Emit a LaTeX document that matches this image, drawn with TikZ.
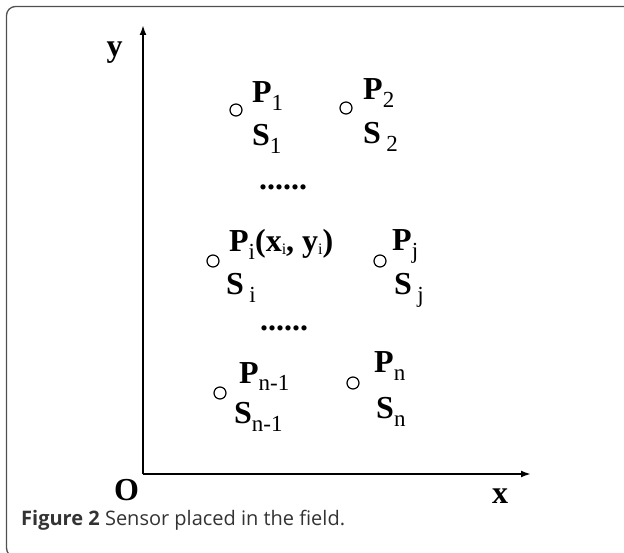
\documentclass[tikz,border=0pt]{standalone}
\usepackage{fontspec}
\setmainfont{Liberation Serif}
\newfontfamily\capfont{Open Sans}
\usepackage{tikz}
\usetikzlibrary{arrows.meta,positioning,calc}

\definecolor{framegray}{HTML}{505050}
\definecolor{captext}{HTML}{333333}

%% lowered subscripts, drawn thinner than the bold letter they hang off
\newcommand{\lowsub}[1]{\raisebox{-8pt}{\fontsize{23}{24}\mdseries\selectfont #1}}
\newcommand{\tinysub}[1]{\raisebox{-3pt}{\fontsize{16}{17}\mdseries\selectfont #1}}

\begin{document}
\begin{tikzpicture}[x=1pt, y=-1pt,
    font=\fontsize{32}{34}\bfseries\selectfont,
    sensor/.style={circle, draw, line width=1.2pt, minimum size=12pt, inner sep=0pt},
    lab/.style={anchor=base west, inner sep=0pt},
    axlab/.style={inner sep=0pt},
    axis/.style={line width=2pt, -{Latex[length=10pt, width=7pt]}}]

    %% Geometry: one unit is one pixel of the 624 x 553 figure, y running DOWN.
    \useasboundingbox (0,0) rectangle (624,553);

    %% ---- journal frame: open to the right and below ----
    \draw[framegray, line width=1.3pt, rounded corners=9pt]
      (640,6.5) -- (6.5,6.5) -- (6.5,557) -- (640,557);

    %% ---- axes ----
    \coordinate (orig) at (143,474);
    \coordinate (xend) at (531,474);
    \coordinate (yend) at (143,25);
    \draw[axis] (orig) -- (xend);
    \draw[axis] (orig) -- (yend);
    \node[axlab] (ylab) at (114.5,53) {y};
    \node[axlab] (olab) at (126.5,490) {O};
    \node[axlab] (xlab) at (500,496) {x};

    %% ---- sensors: circle, position label above, sensor label below ----
    \node[sensor] (s1) at (236,110) {};
    \node[lab] (p1) at ([shift={(16,-7)}]s1.center) {P\lowsub{1}};
    \node[lab] (l1) at ([shift={(16,36)}]s1.center) {S\lowsub{1}};

    \node[sensor] (s2) at (346,108) {};
    \node[lab] (p2) at ([shift={(17,-8)}]s2.center) {P\lowsub{2}};
    \node[lab] (l2) at ([shift={(17,36)}]s2.center) {S\,\lowsub{2}};

    \node[lab] (dots1) at (259,190) {......};

    \node[sensor] (si) at (213,261) {};
    \node[lab] (pi) at ([shift={(16,-9)}]si.center)
      {P\lowsub{i}(x\tinysub{i}, y\tinysub{i})};
    \node[lab] (li) at ([shift={(13,34)}]si.center) {S\,\lowsub{i}};

    \node[sensor] (sj) at (380,261) {};
    \node[lab] (pj) at ([shift={(12,-10)}]sj.center) {P\lowsub{j}};
    \node[lab] (lj) at ([shift={(14,34)}]sj.center) {S\,\lowsub{j}};

    \node[lab] (dots2) at (260,331) {......};

    \node[sensor] (sn1) at (220,393) {};
    \node[lab] (pn1) at ([shift={(19,-10)}]sn1.center) {P\lowsub{n-1}};
    \node[lab] (ln1) at ([shift={(14,30)}]sn1.center) {S\lowsub{n-1}};

    \node[sensor] (sn) at (353,383) {};
    \node[lab] (pn) at ([shift={(21,-10)}]sn.center) {P\lowsub{n}};
    \node[lab] (ln) at ([shift={(23,35)}]sn.center) {S\lowsub{n}};

    %% ---- caption ----
    \node[anchor=base west, inner sep=0pt, text=captext,
          font=\capfont\fontsize{20}{22}\selectfont] (cap) at (21,525)
      {\textbf{Figure 2} Sensor placed in the field.};
\end{tikzpicture}
\end{document}
